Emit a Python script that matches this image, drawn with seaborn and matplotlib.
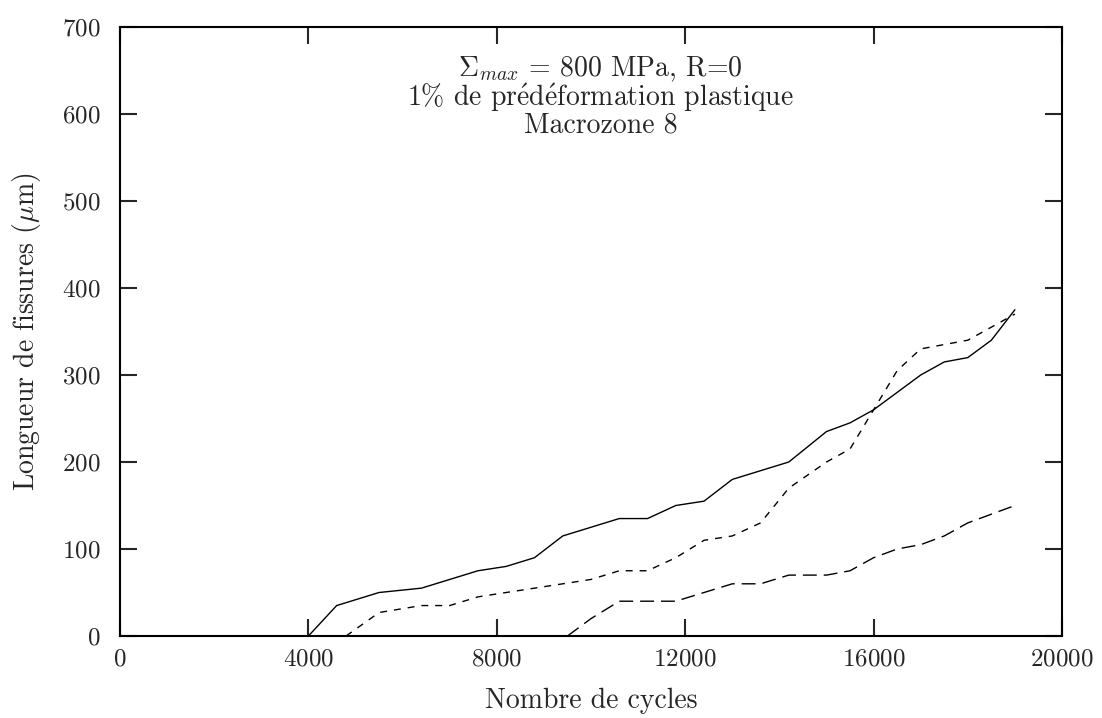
'''
Longueur de fissures en fonction du nombre de cycles (macrozone 8)
'''
import seaborn as sns
import pandas as pd
import matplotlib
matplotlib.use('Agg')
import matplotlib.pyplot as plt

# Données
cycles_a = [4000, 4600, 5500, 6400, 7600, 8200, 8800, 9400, 10600, 11200, 11800,
            12400, 13000, 14200, 15000, 15500, 16000, 17000, 17500, 18000, 18500, 19000]
longueur_a = [0, 35, 50, 55, 75, 80, 90, 115, 135, 135, 150,
              155, 180, 200, 235, 245, 260, 300, 315, 320, 340, 375]

cycles_b = [4800, 5500, 6400, 7000, 7600, 8200, 8800, 9400, 10000, 10600, 11200, 11800,
            12400, 13000, 13600, 14200, 15000, 15500, 16000, 16500, 17000, 17500,
            18000, 18500, 19000]
longueur_b = [0, 27, 35, 35, 45, 50, 55, 60, 65, 75, 75, 90,
              110, 115, 130, 170, 200, 215, 260, 305, 330, 335,
              340, 355, 370]

cycles_c = [9500, 10000, 10600, 11800, 12400, 13000, 13600, 14200, 15000, 15500,
            16000, 16500, 17000, 17500, 18000, 18500, 19000]
longueur_c = [0, 20, 40, 40, 50, 60, 60, 70, 70, 75,
              90, 100, 105, 115, 130, 140, 150]

df = pd.concat([
    pd.DataFrame({'cycles': cycles_a, 'longueur': longueur_a, 'serie': 'a'}),
    pd.DataFrame({'cycles': cycles_b, 'longueur': longueur_b, 'serie': 'b'}),
    pd.DataFrame({'cycles': cycles_c, 'longueur': longueur_c, 'serie': 'c'}),
])

sns.set_style('ticks')
plt.rcParams['font.family'] = ['cmr10', 'DejaVu Serif']
plt.rcParams['mathtext.fontset'] = 'cm'
plt.rcParams['axes.formatter.use_mathtext'] = True
plt.rcParams['lines.scale_dashes'] = False

fig = plt.figure(figsize=(11.02, 7.18), dpi=100)
ax = fig.add_axes([0.1089, 0.1142, 0.8548, 0.8482])

sns.lineplot(data=df, x='cycles', y='longueur', style='serie',
             dashes={'a': '', 'b': (5, 5), 'c': (10, 5)},
             color='black', linewidth=1.0, legend=False, ax=ax, sort=False)

ax.set_xlim(0, 20000)
ax.set_ylim(0, 700)
ax.set_xticks(range(0, 20001, 4000))
ax.set_yticks(range(0, 701, 100))
ax.tick_params(direction='in', length=12, width=1.5, top=True, right=True,
               labelsize=18)
ax.tick_params(axis='x', pad=9)
ax.tick_params(axis='y', pad=14)
for s in ax.spines.values():
    s.set_linewidth(1.5)
    s.set_color('black')

ax.set_xlabel('Nombre de cycles', fontsize=20, labelpad=12)
ax.set_ylabel(r'Longueur de fissures ($\mu$m)', fontsize=20, labelpad=14)

ax.text(10200, 620,
        '$\\Sigma_{max}$ = 800 MPa, R=0\n'
        '1% de pr$\\mathrm{\\acute{e}}$d$\\mathrm{\\acute{e}}$formation plastique\n'
        'Macrozone 8',
        ha='center', va='center', fontsize=20, linespacing=0.9)

fig.savefig('out.png', dpi=100)
